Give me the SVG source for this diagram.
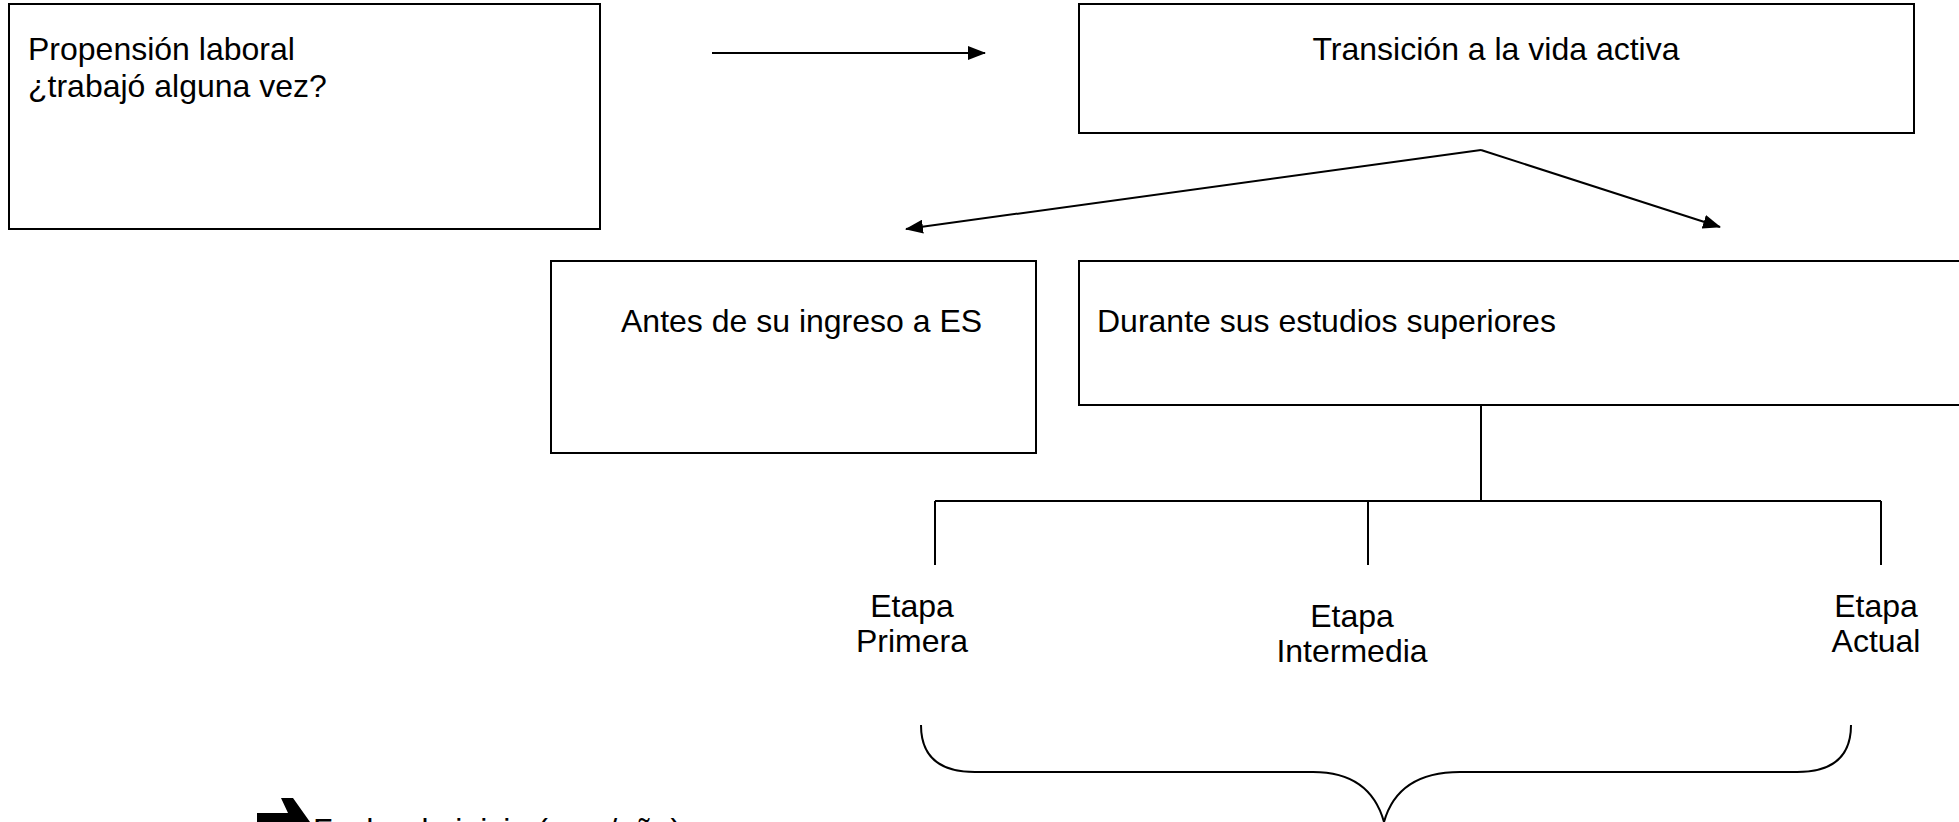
<svg xmlns="http://www.w3.org/2000/svg" width="1959" height="822" viewBox="0 0 1959 822">
<style>
.box{fill:#fff;stroke:#000;stroke-width:2}
.ln{fill:none;stroke:#000;stroke-width:2}
text{font-family:"Liberation Sans",Arial,sans-serif;font-size:32px;fill:#000}
</style>
<defs>
<marker id="ah" markerWidth="18" markerHeight="14" refX="17" refY="7" orient="auto" markerUnits="userSpaceOnUse">
<path d="M0,0 L18,7 L0,14 Z" fill="#000"/>
</marker>
</defs>
<rect width="1959" height="822" fill="#fff"/>
<g id="n-propension">
<rect class="box" x="9" y="4" width="591" height="225"/>
<text x="28" y="60">Propensión laboral</text>
<text x="28" y="97">¿trabajó alguna vez?</text>
</g>
<g id="n-transicion">
<rect class="box" x="1079" y="4" width="835" height="129"/>
<text x="1496" y="60" text-anchor="middle">Transición a la vida activa</text>
</g>
<g id="n-antes">
<rect class="box" x="551" y="261" width="485" height="192"/>
<text x="621" y="332">Antes de su ingreso a ES</text>
</g>
<g id="n-durante">
<rect class="box" x="1079" y="261" width="900" height="144"/>
<text x="1097" y="332">Durante sus estudios superiores</text>
</g>
<g id="n-primera">
<text x="912" y="617" text-anchor="middle">Etapa</text>
<text x="912" y="652" text-anchor="middle">Primera</text>
</g>
<g id="n-intermedia">
<text x="1352" y="627" text-anchor="middle">Etapa</text>
<text x="1352" y="662" text-anchor="middle">Intermedia</text>
</g>
<g id="n-actual">
<text x="1876" y="617" text-anchor="middle">Etapa</text>
<text x="1876" y="652" text-anchor="middle">Actual</text>
</g>
<g id="n-fecha">
<path d="M257,813 L288,813 L281,798 L293,798 L310,822 L293,846 L281,846 L288,831 L257,831 Z" fill="#000"/>
<text x="313" y="841">Fecha de inicio (mes/año)</text>
</g>
<g id="connectors">
<line class="ln" x1="712" y1="53" x2="985" y2="53" marker-end="url(#ah)"/>
<line class="ln" x1="1481" y1="150" x2="906" y2="229" marker-end="url(#ah)"/>
<line class="ln" x1="1481" y1="150" x2="1720" y2="227" marker-end="url(#ah)"/>
<path class="ln" d="M1481,405 L1481,501 M935,501 L1881,501 M935,501 L935,565 M1368,501 L1368,565 M1881,501 L1881,565"/>
<path class="ln" d="M921,725 Q921,772 975,772 L1313,772 Q1370,772 1384,822 Q1398,772 1460,772 L1797,772 Q1851,772 1851,725"/>
</g>
</svg>
